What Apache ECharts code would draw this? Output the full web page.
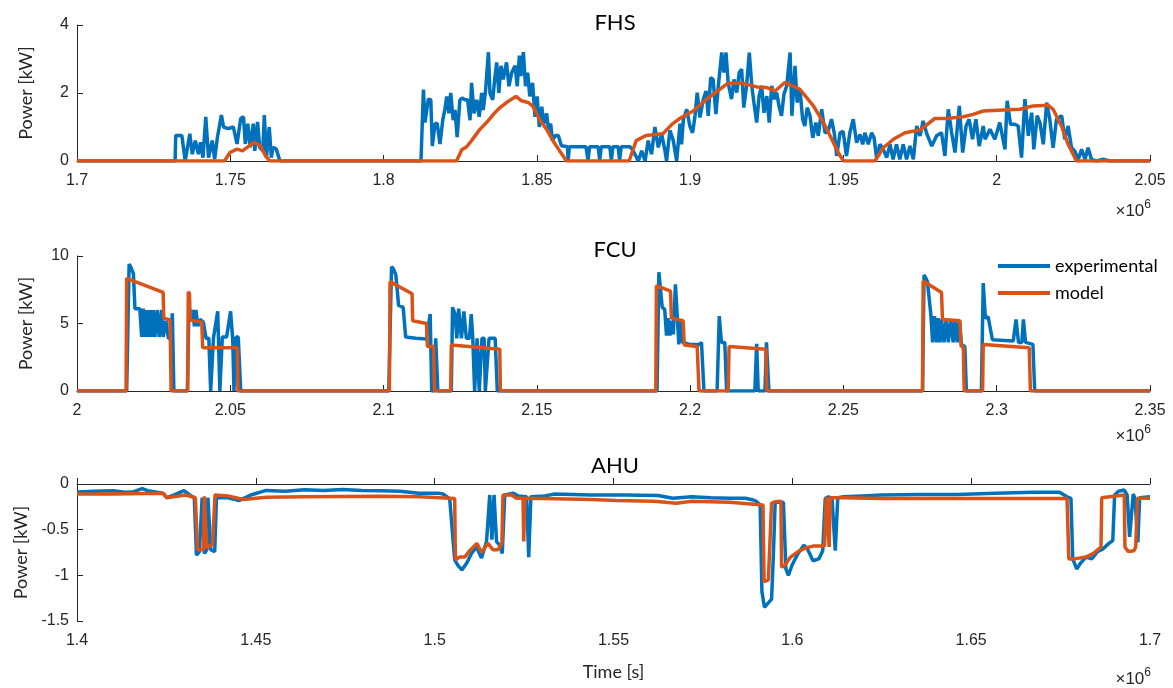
<!DOCTYPE html>
<html>
<head>
<meta charset="utf-8">
<title>FHS / FCU / AHU power</title>
<script src="https://cdn.jsdelivr.net/npm/echarts@6/dist/echarts.min.js"></script>
<style>
  html, body { margin: 0; background: #fff; }
  #chart { width: 1173px; height: 688px; }
</style>
</head>
<body>
<div id="chart"></div>
<script>
// time in units of 1e6 s, power in kW
const fhsExpT = [1.7000, 1.7320, 1.7322, 1.7342, 1.7353, 1.7368, 1.7376, 1.7386, 1.7396, 1.7403, 1.7411, 1.7420, 1.7429, 1.7441, 1.7449, 1.7458, 1.7471, 1.7478, 1.7493, 1.7510, 1.7522, 1.7534, 1.7543, 1.7549, 1.7557, 1.7565, 1.7575, 1.7580, 1.7589, 1.7596, 1.7606, 1.7611, 1.7618, 1.7627, 1.7634, 1.7639, 1.7650, 1.7662,
  1.8122, 1.8130, 1.8135, 1.8146, 1.8154, 1.8159, 1.8168, 1.8175, 1.8184, 1.8193, 1.8200, 1.8206, 1.8213, 1.8219, 1.8227, 1.8233, 1.8240, 1.8249, 1.8258, 1.8265, 1.8274, 1.8282, 1.8287, 1.8295, 1.8304, 1.8312, 1.8320, 1.8325, 1.8333, 1.8342, 1.8347, 1.8356, 1.8363, 1.8369, 1.8376, 1.8383, 1.8390, 1.8401, 1.8409, 1.8418, 1.8429, 1.8436, 1.8443, 1.8448, 1.8456, 1.8463, 1.8470, 1.8477, 1.8486, 1.8494, 1.8501, 1.8508, 1.8516, 1.8523, 1.8532, 1.8538, 1.8545, 1.8551, 1.8560, 1.8570, 1.8580, 1.8586,
  1.8600, 1.8602, 1.8606, 1.8660, 1.8667, 1.8672, 1.8700, 1.8705, 1.8710, 1.8738, 1.8743, 1.8748, 1.8765, 1.8770, 1.8775, 1.8804, 1.8814, 1.8831, 1.8842, 1.8853, 1.8863, 1.8874, 1.8885, 1.8896, 1.8907, 1.8918, 1.8923, 1.8934, 1.8945, 1.8956, 1.8967, 1.8972,
  1.8978, 1.8989, 1.8999, 1.9008, 1.9016, 1.9023, 1.9032, 1.9043, 1.9052, 1.9059, 1.9067, 1.9075, 1.9084, 1.9092, 1.9103, 1.9110, 1.9117, 1.9124, 1.9135, 1.9143, 1.9152, 1.9160, 1.9168, 1.9175, 1.9184, 1.9193, 1.9201, 1.9208, 1.9217, 1.9225, 1.9233, 1.9241, 1.9250, 1.9258, 1.9266, 1.9274, 1.9282, 1.9291, 1.9298, 1.9306, 1.9315, 1.9326, 1.9332, 1.9342, 1.9349, 1.9358, 1.9367, 1.9374, 1.9382, 1.9391, 1.9400, 1.9410, 1.9418, 1.9429, 1.9440, 1.9450, 1.9461, 1.9470, 1.9478, 1.9489, 1.9499, 1.9510, 1.9521, 1.9532, 1.9543, 1.9554, 1.9563, 1.9570, 1.9581, 1.9592, 1.9600, 1.9608, 1.9619, 1.9630, 1.9641, 1.9652, 1.9662, 1.9673, 1.9684, 1.9695, 1.9706, 1.9717, 1.9728, 1.9739, 1.9750, 1.9760, 1.9771, 1.9788, 1.9804, 1.9820, 1.9831, 1.9842, 1.9853, 1.9864, 1.9878, 1.9889, 1.9900, 1.9910, 1.9921, 1.9932, 1.9943,
  1.9956, 1.9962, 1.9978, 1.9994, 2.0010, 2.0027, 2.0034, 2.0045, 2.0059, 2.0070, 2.0081, 2.0092, 2.0103, 2.0114, 2.0121, 2.0132, 2.0141, 2.0152, 2.0163, 2.0173, 2.0184, 2.0195, 2.0212, 2.0222, 2.0233, 2.0244, 2.0255, 2.0266, 2.0277, 2.0288, 2.0298, 2.0309, 2.0326, 2.0347, 2.0369, 2.0500];
const fhsExpP = [0, 0, 0.75, 0.75, 0, 0.8, 0.2, 0.6, 0.2, 0.55, 0.1, 1.3, 0.1, 0.6, 0.05, 0.7, 1.35, 1.0, 0.95, 1.0, 0.5, 1.25, 1.3, 0.5, 1.1, 0.4, 1.1, 0.3, 1.15, 0.4, 0.3, 1.35, 0.1, 1.0, 0.1, 0.4, 0.35, 0,
  0, 2.1, 1.13, 1.82, 1.8, 0.44, 1.1, 1.1, 0.5, 1.2, 1.52, 1.9, 1.4, 2.0, 1.2, 1.5, 0.7, 1.8, 1.85, 1.8, 1.8, 1.2, 2.3, 1.4, 1.8, 1.3, 2.0, 1.5, 2.1, 3.2, 2.0, 1.8, 2.45, 2.9, 2.0, 2.8, 2.4, 2.9, 2.2, 2.6, 2.8, 2.2, 3.1, 2.5, 3.2, 2.2, 2.6, 1.9, 2.3, 1.3, 1.9, 1.0, 1.6, 1.1, 1.4, 0.9, 1.1, 0.6, 0.75, 0.75, 0.45, 0.42,
  0.42, 0.02, 0.42, 0.42, 0.02, 0.42, 0.42, 0.02, 0.42, 0.42, 0.02, 0.42, 0.42, 0.02, 0.42, 0.42, 0.3, 0.0, 0.3, 0.0, 0.6, 0.2, 1.0, 0.4, 0.8, 0.3, 0.0, 0.9, 0.6, 0.0, 1.1, 0.49,
  1.23, 1.52, 1.03, 0.83, 1.33, 2.01, 1.28, 1.82, 2.06, 1.33, 2.45, 2.40, 1.38, 2.21, 3.19, 2.60, 3.19, 2.30, 1.82, 2.40, 2.01, 2.60, 2.70, 1.57, 2.21, 3.19, 2.21, 1.72, 1.13, 1.91, 2.21, 1.42, 1.91, 1.13, 2.21, 1.82, 2.01, 1.57, 1.33, 1.96, 2.21, 3.19, 1.33, 2.80, 1.72, 2.11, 1.23, 1.03, 1.57, 1.33, 0.68, 1.13, 0.74, 1.52, 0.83, 0.87, 1.23, 0.83, 0.15, 0.83, 0.87, 0.15, 0.83, 1.23, 0.54, 0.78, 0.49, 0.83, 0.49, 0.83, 0.68, 0.10, 0.49, 0.34, 0.10, 0.49, 0.05, 0.49, 0.05, 0.49, 0.05, 0.44, 0.05, 1.03, 0.74, 1.18, 0.83, 0.44, 0.74, 0.83, 0.15, 1.52, 0.83, 0.25, 1.62, 0.25, 1.03, 1.23, 0.64, 1.23, 0.44,
  1.03, 0.64, 0.93, 0.64, 1.13, 0.34, 1.77, 1.08, 1.08, 1.03, 0.10, 1.82, 0.74, 1.42, 0.34, 1.33, 1.13, 0.49, 1.72, 1.23, 0.39, 1.23, 1.33, 0.64, 1.03, 0.39, 0.29, 0.05, 0.34, 0.05, 0.39, 0.05, 0, 0.05, 0, 0];

const fhsModT = [1.7000, 1.7481, 1.7499, 1.7522, 1.7528, 1.7540, 1.7563, 1.7578, 1.7598, 1.7615, 1.7629,
  1.8238, 1.8255, 1.8271, 1.8287, 1.8314, 1.8336, 1.8363, 1.8380, 1.8401, 1.8432, 1.8450, 1.8472, 1.8488, 1.8510, 1.8532, 1.8553, 1.8575, 1.8597,
  1.8801, 1.8824, 1.8856, 1.8911, 1.8943, 1.8971, 1.9010, 1.9054, 1.9097, 1.9124, 1.9168, 1.9217, 1.9250, 1.9277, 1.9309, 1.9358, 1.9402, 1.9435, 1.9462, 1.9483, 1.9500,
  1.9603, 1.9630, 1.9663, 1.9701, 1.9750, 1.9798, 1.9837, 1.9891, 1.9923, 1.9956, 2.0021, 2.0075, 2.0119, 2.0168, 2.0184, 2.0211, 2.0233, 2.0260, 2.0500];
const fhsModP = [0, 0, 0.25, 0.35, 0.4, 0.3, 0.45, 0.55, 0.45, 0.15, 0,
  0, 0.33, 0.42, 0.6, 0.93, 1.13, 1.42, 1.57, 1.72, 1.9, 1.77, 1.72, 1.6, 1.2, 0.93, 0.59, 0.29, 0,
  0, 0.6, 0.75, 0.8, 1.1, 1.28, 1.47, 1.82, 2.11, 2.29, 2.29, 2.18, 2.16, 2.06, 2.31, 2.11, 1.62, 1.13, 0.64, 0.25, 0,
  0, 0.39, 0.64, 0.83, 0.91, 1.25, 1.25, 1.3, 1.37, 1.47, 1.5, 1.52, 1.62, 1.64, 1.52, 1.03, 0.49, 0, 0];

const fcuExpT = [2.0000, 2.0162, 2.0170, 2.0175, 2.0184, 2.0189, 2.0205, 2.0211, 2.0216, 2.0222, 2.0227, 2.0233, 2.0238, 2.0244, 2.0249, 2.0254, 2.0262, 2.0268, 2.0276, 2.0281, 2.0290, 2.0298, 2.0306, 2.0311, 2.0316,
  2.0360, 2.0365, 2.0371, 2.0377, 2.0383, 2.0388, 2.0394, 2.0401, 2.0412, 2.0421, 2.0430, 2.0436, 2.0445, 2.0451, 2.0459, 2.0466, 2.0474, 2.0488, 2.0493, 2.0501, 2.0508, 2.0512, 2.0519, 2.0526, 2.0534,
  2.1017, 2.1026, 2.1032, 2.1040, 2.1049, 2.1064, 2.1072, 2.1105, 2.1140, 2.1152, 2.1157, 2.1166, 2.1170, 2.1177,
  2.1221, 2.1225, 2.1233, 2.1239, 2.1245, 2.1254, 2.1262, 2.1270, 2.1280, 2.1286, 2.1291, 2.1297, 2.1305, 2.1312, 2.1321, 2.1328, 2.1332, 2.1344, 2.1364, 2.1371,
  2.1892, 2.1898, 2.1903, 2.1909, 2.1917, 2.1923, 2.1928, 2.1934, 2.1939, 2.1945, 2.1952, 2.1958, 2.1963, 2.1969, 2.1975, 2.1999, 2.2031, 2.2037, 2.2045,
  2.2088, 2.2095, 2.2102, 2.2113, 2.2119, 2.2211, 2.2217, 2.2222, 2.2244, 2.2249, 2.2257,
  2.2758, 2.2763, 2.2774, 2.2785, 2.2791, 2.2797, 2.2804, 2.2809, 2.2815, 2.2820, 2.2828, 2.2835, 2.2842, 2.2850, 2.2858, 2.2864, 2.2871, 2.2878, 2.2885, 2.2896, 2.2901,
  2.2950, 2.2956, 2.2963, 2.2972, 2.2977, 2.2986, 2.3054, 2.3063, 2.3071, 2.3082, 2.3087, 2.3094, 2.3118, 2.3124, 2.3500];
const fcuExpP = [0, 0, 9.4, 9.2, 8.7, 6.1, 6.1, 4.0, 6.1, 4.0, 6.0, 4.0, 6.0, 4.0, 6.0, 4.0, 6.0, 4.0, 6.0, 4.0, 5.2, 3.9, 3.9, 5.75, 0,
  0, 6.1, 5.3, 6.0, 4.8, 6.0, 4.8, 5.3, 5.1, 3.9, 3.9, 0, 3.9, 4.0, 5.9, 0, 4.0, 4.0, 4.0, 5.9, 3.8, 0, 4.0, 4.0, 0,
  0, 9.2, 9.05, 8.6, 6.35, 6.2, 4.0, 3.9, 3.85, 5.7, 0, 0, 3.9, 0,
  0, 6.2, 5.7, 3.9, 6.1, 3.9, 5.9, 3.9, 3.9, 5.7, 3.9, 0, 3.9, 0, 3.9, 3.9, 0, 3.9, 3.9, 0,
  0, 8.8, 8.7, 6.2, 6.05, 4.1, 5.4, 4.1, 5.2, 4.2, 7.9, 5.55, 3.45, 5.2, 3.6, 3.45, 3.45, 3.6, 0,
  0, 5.55, 3.6, 3.6, 0, 0, 3.5, 0, 0, 3.6, 0,
  0, 8.6, 8.1, 5.7, 3.6, 5.55, 3.6, 5.4, 3.6, 5.3, 3.6, 5.3, 3.6, 5.3, 3.6, 5.3, 3.6, 5.2, 3.45, 3.3, 0,
  0, 8.0, 5.4, 5.5, 5.4, 3.8, 3.7, 5.3, 3.6, 3.6, 5.3, 3.6, 3.45, 0, 0];

const fcuModT = [2.0000, 2.0160, 2.0162, 2.0281, 2.0283, 2.0303, 2.0305, 2.0307, 2.0361, 2.0363, 2.0367, 2.0369, 2.0407, 2.0410, 2.0523, 2.0525,
  2.1019, 2.1021, 2.1093, 2.1095, 2.1140, 2.1143, 2.1163, 2.1166, 2.1219, 2.1221, 2.1379, 2.1381,
  2.1888, 2.1890, 2.1936, 2.1939, 2.1977, 2.1981, 2.2023, 2.2029, 2.2124, 2.2127, 2.2247, 2.2250,
  2.2758, 2.2760, 2.2820, 2.2823, 2.2880, 2.2884, 2.2891, 2.2894, 2.2954, 2.2956, 2.3106, 2.3110, 2.3500];
const fcuModP = [0, 0, 8.35, 7.3, 5.4, 5.26, 3.3, 0, 0, 7.36, 7.2, 5.26, 5.1, 3.2, 3.2, 0,
  0, 8.1, 7.2, 5.2, 5.0, 3.3, 3.3, 0, 0, 3.4, 3.1, 0,
  0, 7.8, 7.4, 5.4, 5.2, 3.4, 3.3, 0, 0, 3.3, 3.1, 0,
  0, 8.15, 7.3, 5.3, 5.2, 3.3, 3.3, 0, 0, 3.45, 3.2, 0, 0];

const ahuExpT = [1.4000, 1.4048, 1.4101, 1.4133, 1.4155, 1.4182, 1.4198, 1.4240, 1.4251, 1.4272, 1.4299, 1.4315, 1.4328, 1.4334, 1.4342, 1.4350, 1.4356, 1.4363, 1.4366, 1.4374, 1.4385, 1.4390,
  1.4422, 1.4454, 1.4486, 1.4529, 1.4582, 1.4636, 1.4689, 1.4743, 1.4796, 1.4849, 1.4903, 1.4956, 1.5010, 1.5023, 1.5042,
  1.5056, 1.5065, 1.5076, 1.5089, 1.5103, 1.5117, 1.5131, 1.5145, 1.5154, 1.5160, 1.5166, 1.5173, 1.5182, 1.5189, 1.5196, 1.5219, 1.5233, 1.5257, 1.5263, 1.5269,
  1.5308, 1.5336, 1.5438, 1.5532, 1.5625, 1.5666, 1.5719, 1.5772, 1.5825, 1.5868, 1.5891, 1.5899, 1.5910,
  1.5915, 1.5922, 1.5931, 1.5942, 1.5947, 1.5952, 1.5975, 1.5982, 1.5989, 1.5999, 1.6016, 1.6032, 1.6042, 1.6058, 1.6074, 1.6085, 1.6092, 1.6101, 1.6111, 1.6120, 1.6127,
  1.6143, 1.6196, 1.6249, 1.6355, 1.6461, 1.6567, 1.6673, 1.6747, 1.6768, 1.6779,
  1.6784, 1.6795, 1.6805, 1.6821, 1.6837, 1.6853, 1.6869, 1.6885, 1.6896, 1.6901, 1.6912, 1.6928, 1.6936, 1.6943, 1.6948, 1.6953, 1.6958, 1.6966, 1.6971, 1.7000];
const ahuExpP = [-0.088, -0.08, -0.073, -0.09, -0.088, -0.05, -0.073, -0.10, -0.15, -0.12, -0.073, -0.12, -0.15, -0.78, -0.74, -0.15, -0.76, -0.72, -0.15, -0.72, -0.74, -0.15,
  -0.15, -0.18, -0.12, -0.07, -0.08, -0.062, -0.07, -0.06, -0.07, -0.075, -0.08, -0.10, -0.10, -0.11, -0.16,
  -0.83, -0.89, -0.94, -0.87, -0.76, -0.69, -0.81, -0.63, -0.12, -0.61, -0.12, -0.63, -0.67, -0.76, -0.12, -0.10, -0.13, -0.14, -0.80, -0.14,
  -0.13, -0.11, -0.12, -0.12, -0.125, -0.157, -0.14, -0.15, -0.157, -0.157, -0.175, -0.19, -0.23,
  -1.18, -1.35, -1.31, -1.26, -0.78, -0.20, -0.20, -0.93, -1.0, -0.89, -0.76, -0.67, -0.71, -0.84, -0.82, -0.73, -0.16, -0.14, -0.16, -0.73, -0.15,
  -0.14, -0.13, -0.12, -0.115, -0.115, -0.10, -0.09, -0.09, -0.14, -0.157,
  -0.82, -0.93, -0.87, -0.80, -0.82, -0.74, -0.71, -0.65, -0.62, -0.12, -0.08, -0.066, -0.12, -0.58, -0.58, -0.11, -0.157, -0.64, -0.15, -0.14];

const ahuModT = [1.4000, 1.4101, 1.4240, 1.4251, 1.4304, 1.4331, 1.4337, 1.4353, 1.4356, 1.4361, 1.4363, 1.4379, 1.4386,
  1.4422, 1.4465, 1.4529, 1.4636, 1.4849, 1.4956, 1.5056,
  1.5058, 1.5070, 1.5084, 1.5098, 1.5118, 1.5131, 1.5149, 1.5163, 1.5177, 1.5188, 1.5191, 1.5215, 1.5229, 1.5247, 1.5249, 1.5252,
  1.5299, 1.5438, 1.5507, 1.5613, 1.5676, 1.5719, 1.5825, 1.5918,
  1.5921, 1.5933, 1.5942, 1.5952, 1.5968, 1.5970, 1.5979, 1.5995, 1.6016, 1.6037, 1.6058, 1.6090, 1.6095, 1.6100, 1.6103, 1.6106,
  1.6143, 1.6249, 1.6461, 1.6673, 1.6768,
  1.6773, 1.6789, 1.6821, 1.6842, 1.6863, 1.6865, 1.6928, 1.6930, 1.6939, 1.6955, 1.6960, 1.6965, 1.7000];
const ahuModP = [-0.11, -0.11, -0.10, -0.15, -0.12, -0.15, -0.72, -0.72, -0.135, -0.135, -0.70, -0.66, -0.12,
  -0.13, -0.17, -0.145, -0.14, -0.135, -0.14, -0.16,
  -0.83, -0.80, -0.80, -0.73, -0.65, -0.75, -0.65, -0.72, -0.72, -0.65, -0.12, -0.12, -0.157, -0.157, -0.63, -0.157,
  -0.16, -0.17, -0.18, -0.19, -0.21, -0.19, -0.20, -0.23,
  -1.07, -1.05, -0.21, -0.195, -0.19, -0.91, -0.89, -0.80, -0.74, -0.70, -0.68, -0.68, -0.14, -0.14, -0.69, -0.15,
  -0.15, -0.16, -0.16, -0.16, -0.16,
  -0.82, -0.82, -0.80, -0.76, -0.69, -0.15, -0.12, -0.69, -0.74, -0.73, -0.69, -0.157, -0.157];

const panelTitles = ['FHS', 'FCU', 'AHU'];
const xRanges = [[1.7, 2.05], [2.0, 2.35], [1.4, 1.7]];
const yRanges = [[0, 4, 2], [0, 10, 5], [-1.5, 0, 0.5]];

const BLUE = '#0072BD';
const ORANGE = '#D95319';
const INK = '#262626';

const zip = (t, p) => t.map((x, i) => [x, p[i]]);

const gridTops = [25, 256, 484];
const gridHeights = [136, 135, 137];

const grids = gridTops.map((top, i) => ({
  left: 77, right: 23, top: top, height: gridHeights[i]
}));

const xAxes = xRanges.map((r, i) => ({
  type: 'value',
  gridIndex: i,
  min: r[0],
  max: r[1],
  interval: 0.05,
  axisLine: { show: true, lineStyle: { color: INK, width: 1 } },
  axisTick: { show: true, inside: true, length: 6, lineStyle: { color: INK } },
  axisLabel: { color: INK, fontFamily: 'Liberation Sans', fontSize: 16, margin: 12 },
  splitLine: { show: false },
  name: i === 2 ? 'Time [s]' : '',
  nameLocation: 'middle',
  nameGap: 42,
  nameTextStyle: { color: INK, fontFamily: 'Lato', fontSize: 18 }
}));

const yAxes = yRanges.map((r, i) => ({
  type: 'value',
  gridIndex: i,
  min: r[0],
  max: r[1],
  interval: r[2],
  axisLine: { show: true, lineStyle: { color: INK, width: 1 } },
  axisTick: { show: true, inside: true, length: 6, lineStyle: { color: INK } },
  axisLabel: { color: INK, fontFamily: 'Liberation Sans', fontSize: 16, margin: 8 },
  splitLine: { show: false },
  name: 'Power [kW]',
  nameLocation: 'middle',
  nameRotate: 90,
  nameGap: 42,
  nameTextStyle: { color: INK, fontFamily: 'Lato', fontSize: 18 }
}));

function lineSeries(name, color, data, idx) {
  return {
    name: name,
    type: 'line',
    xAxisIndex: idx,
    yAxisIndex: idx,
    data: data,
    showSymbol: false,
    symbol: 'none',
    animation: false,
    lineStyle: { color: color, width: 3.5 },
    itemStyle: { color: color }
  };
}

const series = [
  lineSeries('experimental', BLUE, zip(fhsExpT, fhsExpP), 0),
  lineSeries('model', ORANGE, zip(fhsModT, fhsModP), 0),
  lineSeries('experimental', BLUE, zip(fcuExpT, fcuExpP), 1),
  lineSeries('model', ORANGE, zip(fcuModT, fcuModP), 1),
  lineSeries('experimental', BLUE, zip(ahuExpT, ahuExpP), 2),
  lineSeries('model', ORANGE, zip(ahuModT, ahuModP), 2)
];

const titleTops = [7, 234, 450];
const titles = panelTitles.map((t, i) => ({
  text: t,
  left: 610,
  top: titleTops[i],
  textAlign: 'center',
  textStyle: { color: '#000', fontFamily: 'Lato', fontSize: 22, fontWeight: 'normal' }
}));

// x10^6 exponent labels under each x axis
const expTops = [199, 424, 667];
const expLabels = expTops.map(top => ({
  type: 'text',
  right: 22,
  top: top,
  style: {
    text: '{a|×10}{b|6}',
    rich: {
      a: { fontFamily: 'Liberation Sans', fontSize: 17, fill: INK, verticalAlign: 'bottom' },
      b: { fontFamily: 'Liberation Sans', fontSize: 12, fill: INK, verticalAlign: 'top', padding: [0, 0, 9, 0] }
    }
  }
}));

const chart = echarts.init(document.getElementById('chart'), null, { renderer: 'canvas' });
chart.setOption({
  backgroundColor: '#fff',
  animation: false,
  title: titles,
  legend: {
    data: ['experimental', 'model'],
    orient: 'vertical',
    left: 993,
    top: 252,
    itemWidth: 52,
    itemHeight: 4,
    itemGap: 9,
    icon: 'rect',
    textStyle: { color: '#000', fontFamily: 'Lato', fontSize: 18, padding: [0, 0, 0, 0] }
  },
  grid: grids,
  xAxis: xAxes,
  yAxis: yAxes,
  series: series,
  graphic: expLabels
});
</script>
</body>
</html>
